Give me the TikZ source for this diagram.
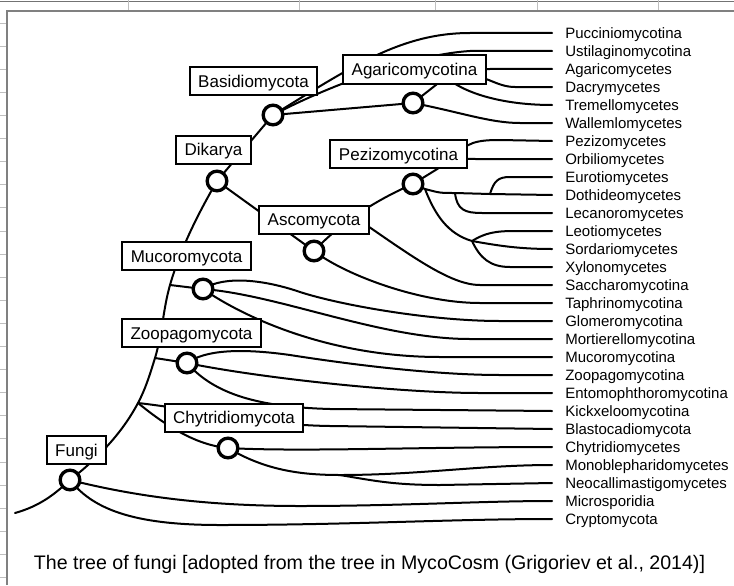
\documentclass[tikz,border=0pt]{standalone}
\usepackage{fontspec}
\setmainfont{Liberation Sans}
\pgfdeclarelayer{back}
\pgfsetlayers{back,main}
\begin{document}
\begin{tikzpicture}[x=0.75pt,y=-0.75pt,
  edge/.style={line width=1.5pt,line cap=round,line join=round},
  knot/.style={circle,draw,line width=2.5pt,fill=white,minimum size=14.75pt,inner sep=0pt},
  clade/.style={draw,line width=1.5pt,fill=white,inner xsep=6.4pt,inner ysep=0pt,minimum height=21pt,text height=9.1pt,text depth=0pt,font=\fontsize{12.75}{14}\selectfont},
  leaf/.style={anchor=base west,inner sep=0pt,font=\fontsize{11.25}{13}\selectfont},
  sheet/.style={draw=black!25,line width=0.75pt},
  frame/.style={draw=black!50,line width=1.5pt}]
\useasboundingbox (0,0) rectangle (734,585);

% circles (internal nodes)
\node[knot] (cFungi) at (70,480) {};
\node[knot] (cChyt) at (228,448) {};
\node[knot] (cZoop) at (187,363) {};
\node[knot] (cMuco) at (203,289) {};
\node[knot] (cAsco) at (314,251) {};
\node[knot] (cDika) at (217,181) {};
\node[knot] (cBasi) at (273,115) {};
\node[knot] (cAgar) at (413,103) {};
\node[knot] (cPezi) at (413,184) {};

% clade boxes
\node[clade] (bBasi) at (253.5,81) {Basidiomycota};
\node[clade] (bAgar) at (414.5,69.5) {Agaricomycotina};
\node[clade] (bDika) at (213.5,149.5) {Dikarya};
\node[clade] (bPezi) at (398.5,154) {Pezizomycotina};
\node[clade] (bAsco) at (314,219.5) {Ascomycota};
\node[clade] (bMuco) at (186.5,256) {Mucoromycota};
\node[clade] (bZoop) at (191.5,333) {Zoopagomycota};
\node[clade] (bChyt) at (234,417.5) {Chytridiomycota};
\node[clade] (bFungi) at (76.5,450) {Fungi};

% leaves
\foreach \n [count=\i from 0] in {Pucciniomycotina,Ustilaginomycotina,Agaricomycetes,Dacrymycetes,Tremellomycetes,Wallemlomycetes,Pezizomycetes,Orbiliomycetes,Eurotiomycetes,Dothideomycetes,Lecanoromycetes,Leotiomycetes,Sordariomycetes,Xylonomycetes,Saccharomycotina,Taphrinomycotina,Glomeromycotina,Mortierellomycotina,Mucoromycotina,Zoopagomycotina,Entomophthoromycotina,Kickxeloomycotina,Blastocadiomycota,Chytridiomycetes,Monoblepharidomycetes,Neocallimastigomycetes,Microsporidia,Cryptomycota}{
  \node[leaf] (l\i) at (565,{38.4+18*\i}) {\n};
  \coordinate (e\i) at (552,{33+18*\i});
}

\node[font=\fontsize{14.7}{17}\selectfont,anchor=base,inner sep=0pt] (caption) at (369.5,569) {The tree of fungi [adopted from the tree in MycoCosm (Grigoriev et al., 2014)]};

% junctions
\coordinate (root) at (15,513);
\coordinate (jChyt) at (138,403);
\coordinate (jZoop) at (155,358);
\coordinate (jMuco) at (170,285);
\coordinate (jTr) at (446,77);
\coordinate (jAg) at (452,72);
\coordinate (jSac) at (354,216.5);
\coordinate (jPz) at (455,158);
\coordinate (pzR) at (425,189);
\coordinate (jLe) at (455,193);
\coordinate (jED) at (490,194);
\coordinate (jLSX) at (472,241);
\coordinate (jNeo) at (340,475);

\begin{pgfonlayer}{back}
\fill[white] (0,0) rectangle (734,585);
% spreadsheet remnants
\draw[draw=black!55,line width=0.75pt] (0,2) -- (734,2);
\foreach \gx in {128,299,435,537,658} \draw[sheet] (\gx,0) -- (\gx,11);
\foreach \k in {1,...,25} \draw[sheet] (0,{23.1*\k}) -- (7,{23.1*\k});
\draw[frame] (7,585) -- (7,11) -- (734,11);

% trunk
\draw[edge] (root) .. controls (40,506) and (55,494) .. (cFungi.center);
\draw[edge] (cFungi.center) .. controls (97.6,458.5) and (121.6,433.9) .. (jChyt)
  .. controls (145.5,388.9) and (150.3,373.3) .. (jZoop)
  .. controls (162.3,334.1) and (163.1,309) .. (jMuco)
  .. controls (180.5,248.5) and (198,213.9) .. (cDika.center);
\draw[edge] (jZoop) -- (cZoop.center);
\draw[edge] (jMuco) -- (cMuco.center);
\draw[edge] (cDika.center) -- (cBasi.center);
\draw[edge] (cDika.center) -- (cAsco.center);

% Basidiomycota
\draw[edge] (cBasi.center) .. controls (350,68) and (400,33) .. (470,33) -- (e0);
\draw[edge] (cBasi.center) .. controls (340,80) and (420,54) .. (470,51) -- (e1);
\draw[edge] (cBasi.center) -- (cAgar.center);
\draw[edge] (cAgar.center) -- (jTr) -- (jAg);
\draw[edge] (jAg) .. controls (470,69) .. (490,69) -- (e2);
\draw[edge] (jAg) .. controls (485,73) and (495,87) .. (515,87) -- (e3);
\draw[edge] (jTr) .. controls (462,92) and (500,105) .. (e4);
\draw[edge] (cAgar.center) .. controls (460,112) and (490,123) .. (520,123) -- (e5);

% Ascomycota
\draw[edge] (cAsco.center) .. controls (345,218) and (385,196) .. (cPezi.center);
\draw[edge] (jSac) .. controls (410,255) and (450,285) .. (480,285) -- (e14);
\draw[edge] (cAsco.center) .. controls (345,275) and (420,303) .. (480,303) -- (e15);

% Pezizomycotina
\draw[edge] (cPezi.center) -- (jPz);
\draw[edge] (jPz) .. controls (465,142) and (478,140) .. (500,140) -- (e6);
\draw[edge] (jPz) .. controls (465,159) .. (480,159) -- (e7);
\draw[edge] (cPezi.center) -- (pzR) .. controls (440,193) .. (jLe) -- (jED) -- (e9);
\draw[edge] (jED) .. controls (494,181) and (498,177) .. (510,177) -- (e8);
\draw[edge] (jLe) .. controls (457,210) and (465,213) .. (482,213) -- (e10);
\draw[edge] (pzR) .. controls (435,215) and (448,234) .. (jLSX);
\draw[edge] (jLSX) .. controls (485,233) and (495,231) .. (515,231) -- (e11);
\draw[edge] (jLSX) .. controls (500,246) and (520,249) .. (e12);
\draw[edge] (jLSX) .. controls (480,258) and (490,267) .. (510,267) -- (e13);

% Mucoromycota
\draw[edge] (cMuco.center) .. controls (225,275) and (265,280) .. (300,292) .. controls (340,305) and (430,321) .. (500,321) -- (e16);
\draw[edge] (cMuco.center) .. controls (280,295) and (380,339) .. (470,339) -- (e17);
\draw[edge] (cMuco.center) .. controls (245,318) and (330,357) .. (440,357) -- (e18);

% Zoopagomycota
\draw[edge] (cZoop.center) .. controls (205,350) and (240,348) .. (290,355) .. controls (360,366) and (440,375) .. (500,375) -- (e19);
\draw[edge] (cZoop.center) .. controls (260,378) and (400,393) .. (480,393) -- (e20);
\draw[edge] (cZoop.center) .. controls (215,395) and (260,407) .. (330,409) -- (e21);

% Chytridiomycota
\draw[edge] (jChyt) .. controls (200,410) and (260,425) .. (330,426) -- (e22);
\draw[edge] (jChyt) .. controls (165,425) and (195,445) .. (cChyt.center);
\draw[edge] (cChyt.center) .. controls (300,452) and (420,447) .. (e23);
\draw[edge] (cChyt.center) .. controls (265,470) and (300,475) .. (jNeo) .. controls (420,475) and (480,465) .. (e24);
\draw[edge] (jNeo) .. controls (375,481) and (395,485) .. (440,485) -- (e25);

% Fungi
\draw[edge] (cFungi.center) .. controls (130,495) and (200,506) .. (300,506) .. controls (400,506) and (480,501) .. (e26);
\draw[edge] (cFungi.center) .. controls (95,512) and (140,525) .. (220,525) .. controls (350,525) and (450,519) .. (e27);
\end{pgfonlayer}
\end{tikzpicture}
\end{document}
